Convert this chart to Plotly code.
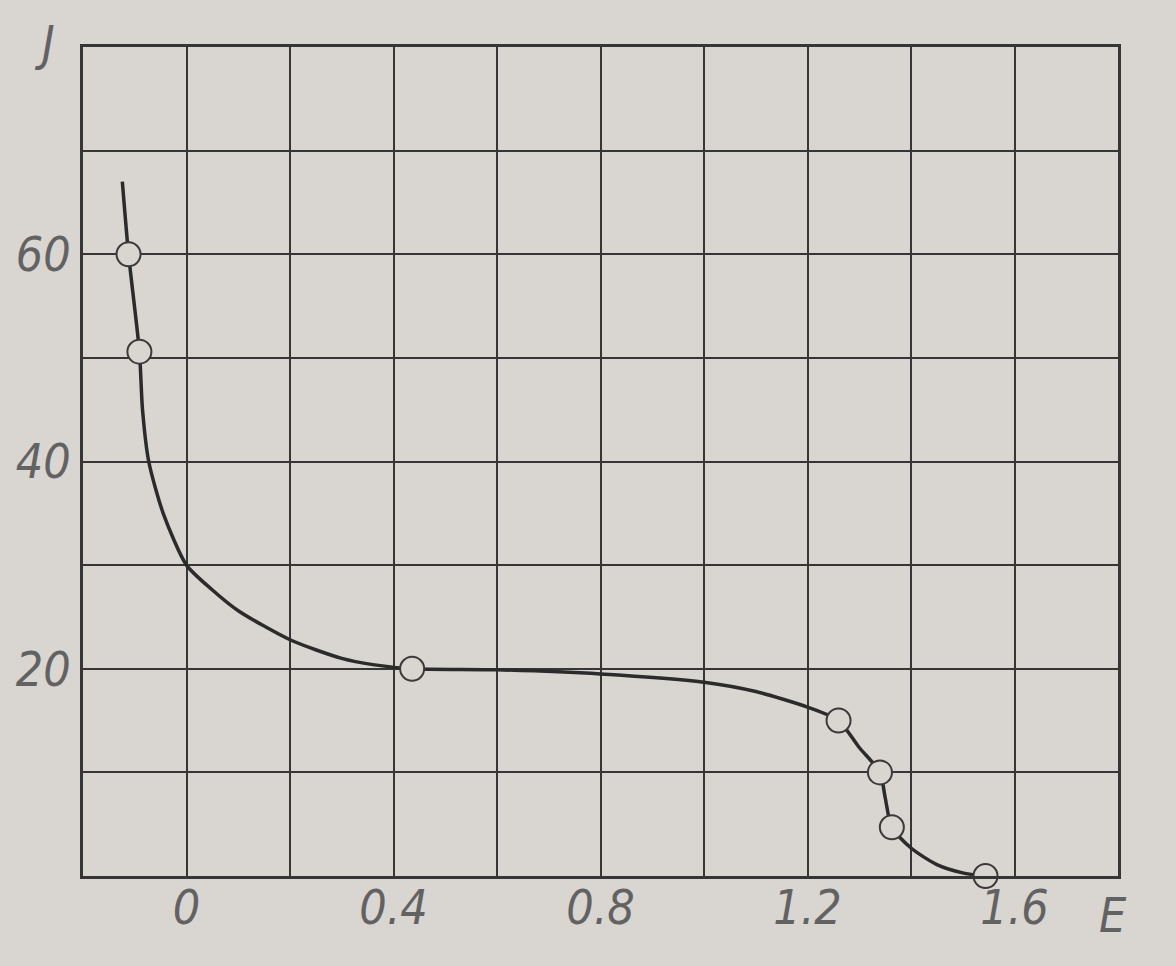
import plotly.graph_objects as go

# Curve (E, J)
curve_E = [-0.124, -0.112, -0.091, -0.085, -0.073, -0.045, 0.0, 0.05, 0.1, 0.2, 0.3, 0.36,
           0.436, 0.6, 0.8, 1.0, 1.1, 1.2, 1.26, 1.3, 1.34, 1.35, 1.363, 1.4, 1.45, 1.5, 1.544]
curve_J = [67.0, 60.0, 50.6, 45.0, 40.0, 35.0, 30.0, 27.6, 25.6, 22.8, 21.0, 20.4,
           20.0, 19.9, 19.5, 18.7, 17.8, 16.3, 15.0, 12.4, 10.0, 7.6, 4.7, 2.7, 1.1, 0.3, 0.0]

# Measured points (open circles)
point_E = [-0.112, -0.091, 0.436, 1.26, 1.34, 1.363, 1.544]
point_J = [60.0, 50.6, 20.0, 15.0, 10.0, 4.7, 0.0]

x_grid = [-0.2, 0.0, 0.2, 0.4, 0.6, 0.8, 1.0, 1.2, 1.4, 1.6, 1.8]
x_labels = ["", "0", "", "0.4", "", "0.8", "", "1.2", "", "1.6", ""]
y_grid = [0, 10, 20, 30, 40, 50, 60, 70, 80]
y_labels = ["", "", "20", "", "40", "", "60", "", ""]

bg = "#d9d5d1"
ink = "#363636"
label_col = "#626262"
font_family = "DejaVu Sans Condensed, DejaVu Sans, sans-serif"
lab_font = dict(family=font_family, size=48, color=label_col, style="italic")

fig = go.Figure()
fig.add_trace(go.Scatter(
    x=curve_E, y=curve_J, mode="lines",
    line=dict(color="#2b2b2b", width=3.5, shape="spline", smoothing=0.7),
    showlegend=False, hoverinfo="skip"))
fig.add_trace(go.Scatter(
    x=point_E, y=point_J, mode="markers",
    marker=dict(size=24, color=bg, line=dict(color="#3a3a3a", width=2)),
    showlegend=False, cliponaxis=False))

axis_common = dict(
    showgrid=True, gridcolor=ink, gridwidth=2,
    showline=True, linecolor=ink, linewidth=2.5, mirror=True,
    zeroline=False, ticks="", automargin=False,
    tickfont=lab_font,
)

fig.update_xaxes(range=[-0.2, 1.8], tickmode="array", tickvals=x_grid, ticktext=x_labels,
                 ticklabelstandoff=-12, **axis_common)
fig.update_yaxes(range=[0, 80], tickmode="array", tickvals=y_grid, ticktext=y_labels,
                 ticklabelstandoff=0, **axis_common)

fig.add_annotation(text="J", xref="paper", yref="paper", x=-0.037, y=1.005,
                   xanchor="center", yanchor="middle", showarrow=False, font=lab_font)
fig.add_annotation(text="E", xref="paper", yref="paper", x=0.995, y=-0.047,
                   xanchor="center", yanchor="middle", showarrow=False, font=lab_font)

fig.update_layout(
    width=1176, height=966,
    margin=dict(l=83, r=58, t=47, b=90),
    paper_bgcolor=bg, plot_bgcolor=bg,
)

fig.write_html("out.html")
